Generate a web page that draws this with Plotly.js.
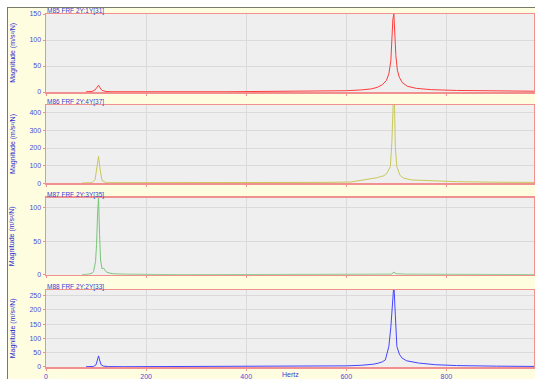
<!DOCTYPE html>
<html>
<head>
<meta charset="utf-8">
<script src="https://cdn.plot.ly/plotly-3.0.1.min.js"></script>
<style>
html,body{margin:0;padding:0;background:#ffffff;width:535px;height:379px;overflow:hidden;}
#chart{position:absolute;left:7px;top:7px;width:527px;height:371px;border-top:1px solid #7a7a6a;border-left:1px solid #7a7a6a;}
</style>
</head>
<body>
<div id="chart"></div>
<script>
// ---- data ----
const panelTitles = ["M85 FRF 2Y:1Y[31]", "M86 FRF 2Y:4Y[37]", "M87 FRF 2Y:3Y[35]", "M88 FRF 2Y:2Y[33]"];
const yTitles = ["Magnitude (m/s²/N)", "Magnitude (m/s²/N)", "Magnitude (m/s²/N)", "Magnitude (m/s²/N)"];
const xTickVals = [0, 200, 400, 600, 800];
const xTitle = "Hertz";

const f1 = [80, 92, 98, 102, 105, 108, 112, 120, 130, 360, 450, 550, 600, 630, 650, 662, 672, 680, 685, 689, 691, 693, 695, 697, 699, 702, 706, 712, 722, 740, 770, 820, 900, 975];
const m1 = [0.5, 1, 4, 9, 13, 8, 3, 1, 0.5, 0.5, 1, 1.5, 2.5, 4, 6, 9, 14, 22, 35, 60, 100, 140, 150, 110, 70, 42, 28, 18, 11, 7, 4.5, 3, 2, 1.5];

const f2 = [72, 92, 98, 102, 105, 108, 112, 120, 350, 450, 550, 608, 634, 660, 675, 681, 688, 691, 694, 696, 698, 701, 707, 714, 730, 768, 820, 900, 975];
const m2 = [0.5, 2, 20, 90, 152, 80, 15, 2, 1, 2, 4, 6, 17, 30, 42, 56, 94, 230, 480, 480, 200, 94, 45, 29, 18, 12, 8, 5, 4];

const f3 = [72, 85, 92, 95, 99, 101, 103, 105, 107, 109, 112, 115, 118, 121, 128, 135, 160, 200, 272, 690, 695, 700, 720, 808, 850, 975];
const m3 = [0.3, 1, 2.5, 5, 20, 45, 90, 115, 60, 22, 9, 10, 7, 4, 2.5, 1.5, 1, 0.5, 0.3, 1, 4, 1.5, 1, 0.8, 0.5, 0.4];

const f4 = [80, 95, 100, 103, 105, 107, 110, 115, 125, 156, 468, 550, 600, 630, 644, 655, 665, 672, 678, 685, 689, 692, 695, 698, 701, 706, 711, 720, 744, 778, 820, 900, 975];
const m4 = [1, 2, 8, 25, 39, 25, 8, 3, 1.5, 1, 2, 3, 4, 6, 8, 10, 14, 18, 25, 72, 140, 220, 290, 180, 72, 45, 32, 22, 14, 8, 5, 3, 2];

const yRanges = [[0, 150], [0, 445], [0, 114], [0, 270]];
const yDtick = [50, 100, 50, 50];
const colors = ["#ff3b3b", "#c8c85a", "#78c478", "#4444ff"];

// ---- layout ----
const freqs = [f1, f2, f3, f4];
const mags = [m1, m2, m3, m4];
const domains = [[0.779, 1.0], [0.521, 0.742], [0.261, 0.479], [0.0, 0.218]];
const tickFont = {family: "Liberation Sans, Arial, sans-serif", size: 7, color: "#4a4ae0"};
const frameColor = "#f29090";

const traces = [];
const layout = {
  width: 527, height: 371,
  margin: {l: 38, r: 1, t: 6, b: 12},
  paper_bgcolor: "#fffde0",
  plot_bgcolor: "#efefef",
  showlegend: false,
  annotations: [],
  font: tickFont
};

for (let i = 0; i < 4; i++) {
  const n = i === 0 ? "" : String(i + 1);
  traces.push({
    x: freqs[i], y: mags[i], type: "scatter", mode: "lines",
    line: {color: colors[i], width: 1},
    xaxis: "x" + n, yaxis: "y" + n, hoverinfo: "skip"
  });
  layout["xaxis" + n] = {
    domain: [0, 1], anchor: "y" + n, range: [0, 975],
    tickvals: xTickVals, showticklabels: i === 3,
    ticks: "outside", ticklen: 2, tickcolor: frameColor,
    showgrid: true, gridcolor: "#dadada", gridwidth: 1, zeroline: false,
    showline: true, mirror: true, linecolor: frameColor, linewidth: 1.5,
    tickfont: tickFont, fixedrange: true
  };
  if (i > 0) layout["xaxis" + n].matches = "x";
  layout["yaxis" + n] = {
    domain: domains[i], anchor: "x" + n, range: yRanges[i], dtick: yDtick[i],
    ticks: "outside", ticklen: 2, tickcolor: frameColor,
    showgrid: true, gridcolor: "#dadada", gridwidth: 1, zeroline: false,
    showline: true, mirror: true, linecolor: frameColor, linewidth: 1.5,
    tickfont: tickFont, fixedrange: true
  };
  layout.annotations.push({
    text: panelTitles[i], xref: "paper", yref: "paper",
    x: 0, y: domains[i][1], xanchor: "left", yanchor: "bottom", yshift: -2, borderpad: 0,
    showarrow: false, font: {family: "Liberation Sans, Arial, sans-serif", size: 6.5, color: "#3a3ad8"}
  });
  layout.annotations.push({
    text: yTitles[i], xref: "paper", yref: "paper",
    x: -0.068, y: (domains[i][0] + domains[i][1]) / 2, xanchor: "center", yanchor: "middle",
    textangle: -90, showarrow: false,
    font: {family: "Liberation Sans, Arial, sans-serif", size: 7, color: "#2a2ad0"}
  });
}
layout.annotations.push({
  text: xTitle, xref: "paper", yref: "paper", x: 0.5, y: -0.02,
  xanchor: "center", yanchor: "middle", showarrow: false, borderpad: 0,
  font: {family: "Liberation Sans, Arial, sans-serif", size: 7, color: "#3a3ad8"}
});

Plotly.newPlot("chart", traces, layout, {staticPlot: true, displayModeBar: false});
</script>
</body>
</html>
